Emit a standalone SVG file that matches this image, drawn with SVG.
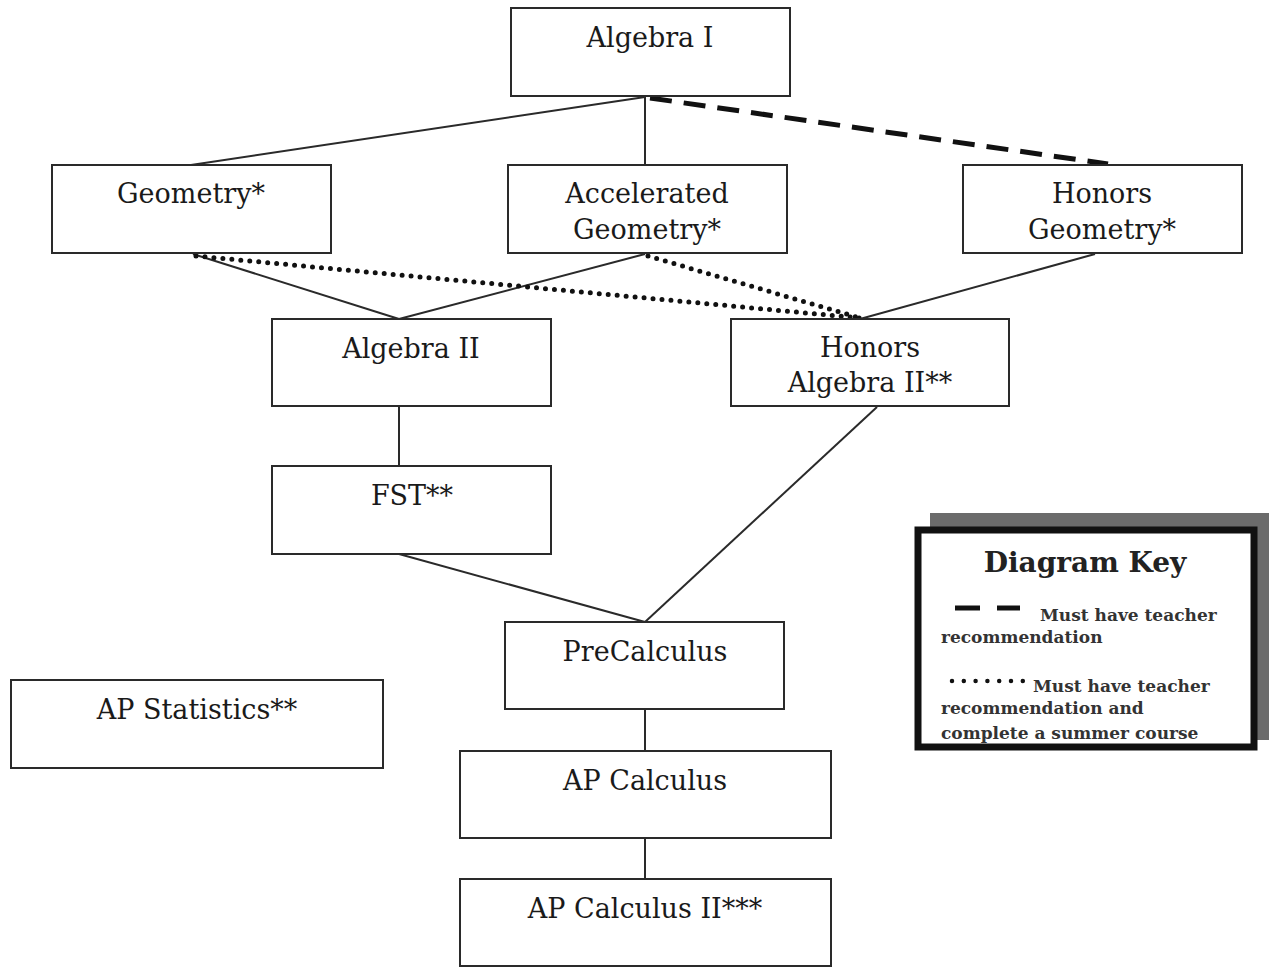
<svg xmlns="http://www.w3.org/2000/svg" width="1269" height="968" viewBox="0 0 1269 968">
<style>
.box{fill:#fff;stroke:#2a2a2a;stroke-width:2}
.t{font-family:"DejaVu Serif","Liberation Serif",serif;font-size:27px;fill:#1a1a1a;text-anchor:middle}
.solid{stroke:#2a2a2a;stroke-width:2;fill:none}
.dash{stroke:#111;stroke-width:5;stroke-dasharray:22 12;fill:none}
.dot{stroke:#111;stroke-width:5;stroke-dasharray:0 9;stroke-linecap:round;fill:none}
.k{font-family:"DejaVu Serif","Liberation Serif",serif;font-size:17px;font-weight:bold;fill:#333}
</style>
<rect width="1269" height="968" fill="#fff"/>
<g id="connectors">
<line class="solid" x1="645" y1="97" x2="191" y2="165"/>
<line class="solid" x1="645" y1="97" x2="645" y2="165"/>
<line class="dash" x1="650" y1="98" x2="1108" y2="164"/>
<line class="solid" x1="193" y1="254" x2="399" y2="319"/>
<line class="solid" x1="645" y1="254" x2="399" y2="319"/>
<line class="dot" x1="196" y1="256" x2="860" y2="318"/>
<line class="dot" x1="648" y1="256" x2="860" y2="318"/>
<line class="solid" x1="1095" y1="254" x2="860" y2="319"/>
<line class="solid" x1="399" y1="406" x2="399" y2="466"/>
<line class="solid" x1="399" y1="554" x2="645" y2="622"/>
<line class="solid" x1="877" y1="407" x2="645" y2="622"/>
<line class="solid" x1="645" y1="709" x2="645" y2="751"/>
<line class="solid" x1="645" y1="838" x2="645" y2="879"/>
</g>
<g id="algebra1"><rect class="box" x="511" y="8" width="279" height="88"/><text class="t" x="650" y="47">Algebra I</text></g>
<g id="geometry"><rect class="box" x="52" y="165" width="279" height="88"/><text class="t" x="191" y="203">Geometry*</text></g>
<g id="accgeometry"><rect class="box" x="508" y="165" width="279" height="88"/><text class="t" x="647" y="203">Accelerated</text><text class="t" x="647" y="239">Geometry*</text></g>
<g id="honorsgeometry"><rect class="box" x="963" y="165" width="279" height="88"/><text class="t" x="1102" y="203">Honors</text><text class="t" x="1102" y="239">Geometry*</text></g>
<g id="algebra2"><rect class="box" x="272" y="319" width="279" height="87"/><text class="t" x="411" y="358">Algebra II</text></g>
<g id="honorsalgebra2"><rect class="box" x="731" y="319" width="278" height="87"/><text class="t" x="870" y="357">Honors</text><text class="t" x="870" y="392">Algebra II**</text></g>
<g id="fst"><rect class="box" x="272" y="466" width="279" height="88"/><text class="t" x="412" y="505">FST**</text></g>
<g id="precalculus"><rect class="box" x="505" y="622" width="279" height="87"/><text class="t" x="645" y="661">PreCalculus</text></g>
<g id="apstatistics"><rect class="box" x="11" y="680" width="372" height="88"/><text class="t" x="197" y="719">AP Statistics**</text></g>
<g id="apcalculus"><rect class="box" x="460" y="751" width="371" height="87"/><text class="t" x="645" y="790">AP Calculus</text></g>
<g id="apcalculus2"><rect class="box" x="460" y="879" width="371" height="87"/><text class="t" x="645" y="918">AP Calculus II***</text></g>
<g id="key">
<rect x="930" y="513" width="339" height="227" fill="#6b6b6b"/>
<rect x="918" y="530" width="336" height="217" fill="#fff"/>
<text font-family="DejaVu Serif, serif" font-size="28" font-weight="bold" fill="#222" x="1085" y="572" text-anchor="middle">Diagram Key</text>
<line x1="955" y1="608" x2="980" y2="608" stroke="#111" stroke-width="5"/>
<line x1="997" y1="608" x2="1020" y2="608" stroke="#111" stroke-width="5"/>
<text class="k" x="1040" y="621">Must have teacher</text>
<text class="k" x="941" y="643">recommendation</text>
<line x1="952" y1="681" x2="1023" y2="681" stroke="#111" stroke-width="4.5" stroke-linecap="round" stroke-dasharray="0 11.8"/>
<text class="k" x="1033" y="692">Must have teacher</text>
<text class="k" x="941" y="714">recommendation and</text>
<text class="k" x="941" y="739">complete a summer course</text>
<rect x="918" y="530" width="336" height="217" fill="none" stroke="#111" stroke-width="7"/>
</g>
</svg>
